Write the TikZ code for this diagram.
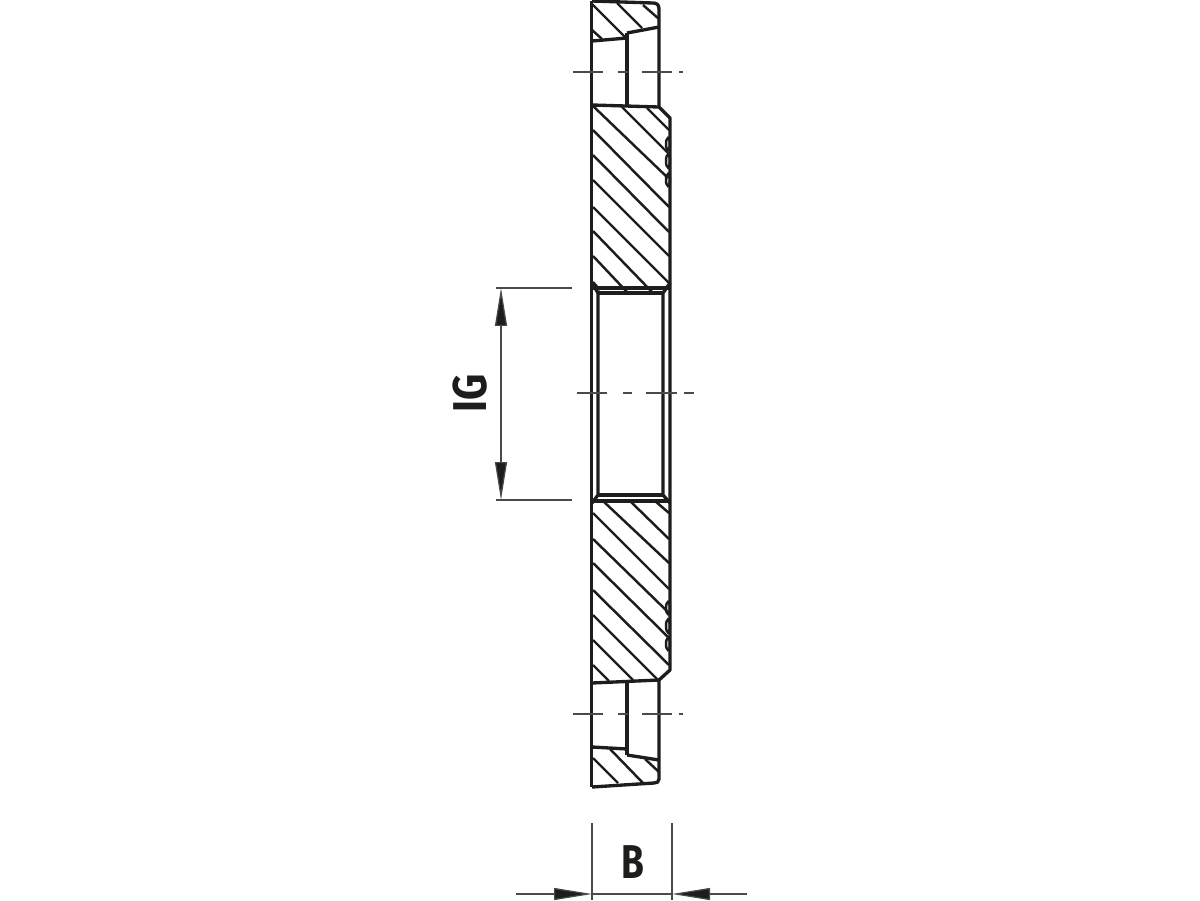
\documentclass[tikz,border=0pt]{standalone}
\usepackage{fontspec}
\setsansfont{Fira Sans}
\usetikzlibrary{arrows.meta}

\definecolor{ink}{HTML}{1D1D1B}
\tikzset{
  outline/.style={line width=1.9pt, draw=ink, line join=round},
  hatch/.style={line width=1.4pt, draw=ink},
  centre/.style={line width=0.7pt, draw=ink!80},
  dimline/.style={line width=0.7pt, draw=ink!80},
  dimtip/.style={-{Triangle[length=0.76cm, width=0.24cm, fill=ink]}},
  dimlabel/.style={font=\sffamily\bfseries\fontsize{27}{27}\selectfont, text=ink, inner sep=0pt}
}

\begin{document}
\begin{tikzpicture}[x=0.02cm, y=-0.02cm]
\useasboundingbox (0,0) rectangle (1200,900);

% top hole
\draw[outline] (592,1) -- (653,3) .. controls (657,3) and (659,5) .. (659,9) -- (659,107) -- (670,118) -- (670,283);
\draw[outline] (592,41) -- (627,38);
\draw[outline] (627,33) -- (659,27);
\draw[outline] (627,33) -- (627,106);
\draw[outline] (592,105) -- (659,107);

% left edge and bore
\draw[outline] (591.5,1) -- (591.5,787);
\draw[outline] (670,283) -- (670,670) -- (659,680);
\draw[outline] (592,288) -- (670,288);
\draw[outline] (598,293) -- (663,293);
\draw[outline] (592,283) -- (598,293) -- (598,495) -- (592,503);
\draw[outline] (670,283) -- (663,293) -- (663,495) -- (670,503);
\draw[outline] (598,495) -- (663,495);
\draw[outline] (592,501) -- (670,501);

% bottom hole
\draw[outline] (592,683) -- (659,680);
\draw[outline] (627,683) -- (627,755);
\draw[outline] (592,747) -- (627,749);
\draw[outline] (627,755) -- (659,760);
\draw[outline] (659,680) -- (659,779) .. controls (659,782) and (657,783) .. (654,783) -- (592,787);

% hatching, top
\draw[hatch] (592,4) -- (625,37);
\draw[hatch] (617,3) -- (642,28);
\draw[hatch] (643,5) -- (659,19);
\draw[hatch] (592,30) -- (602,39);
\draw[hatch] (593,106) -- (668,178);
\draw[hatch] (622,107) -- (668,153);
\draw[hatch] (647,108) -- (669,130);
\draw[hatch] (593,130) -- (669,207);
\draw[hatch] (593,155) -- (669,232);
\draw[hatch] (593,180) -- (669,256);
\draw[hatch] (593,207) -- (669,283);
\draw[hatch] (593,231) -- (652,292);
\draw[hatch] (593,256) -- (627,292);
\draw[hatch] (593,282) -- (600,290);

% hatching, bottom
\draw[hatch] (603,501) -- (669,563);
\draw[hatch] (630,501) -- (669,539);
\draw[hatch] (655,501) -- (669,513);
\draw[hatch] (593,513) -- (669,589);
\draw[hatch] (593,539) -- (669,613);
\draw[hatch] (593,563) -- (669,638);
\draw[hatch] (593,590) -- (669,665);
\draw[hatch] (593,615) -- (657,679);
\draw[hatch] (593,640) -- (633,680);
\draw[hatch] (593,665) -- (609,681);
\draw[hatch] (593,758) -- (618,783);
\draw[hatch] (610,749) -- (643,783);
\draw[hatch] (645,759) -- (659,772);

% thread marks
\draw[hatch] (668,144) ellipse (2 and 6);
\draw[hatch] (668,161) ellipse (2 and 6.5);
\draw[hatch] (668,180) ellipse (2 and 6);
\draw[hatch] (668,608) ellipse (2 and 6);
\draw[hatch] (668,626) ellipse (2 and 6.5);
\draw[hatch] (668,644) ellipse (2 and 6);

% centre lines
\draw[centre] (573,72) -- (603,72);
\draw[centre] (618,72) -- (628,72);
\draw[centre] (642,72) -- (672,72);
\draw[centre] (679,72) -- (683,72);
\draw[centre] (577,393) -- (607,393);
\draw[centre] (623,393) -- (632,393);
\draw[centre] (646,393) -- (677,393);
\draw[centre] (684,393) -- (694,393);
\draw[centre] (573,714) -- (603,714);
\draw[centre] (618,714) -- (628,714);
\draw[centre] (642,714) -- (672,714);
\draw[centre] (679,714) -- (683,714);

% dimension IG
\coordinate (igtop) at (501,288);
\coordinate (igbot) at (501,500);
\coordinate (igtopend) at (572,288);
\coordinate (igbotend) at (572,500);
\coordinate (igtopstart) at (496,288);
\coordinate (igbotstart) at (496,500);
\coordinate (igmid) at (501,394);
\draw[dimline] (igtopstart) -- (igtopend);
\draw[dimline] (igbotstart) -- (igbotend);
\draw[dimline, dimtip] (igmid) -- (igtop);
\draw[dimline, dimtip] (igmid) -- (igbot);
\node[dimlabel, rotate=90, xscale=0.86] (ig) at (470,393) {IG};

% dimension B
\coordinate (bleft) at (592,894);
\coordinate (bright) at (672,894);
\coordinate (bleftstart) at (516,894);
\coordinate (brightstart) at (747,894);
\coordinate (bleftup) at (592,823);
\coordinate (brightup) at (672,823);
\coordinate (bleftdown) at (592,900);
\coordinate (brightdown) at (672,900);
\draw[dimline] (bleftup) -- (bleftdown);
\draw[dimline] (brightup) -- (brightdown);
\draw[dimline] (bleft) -- (bright);
\draw[dimline, dimtip] (bleftstart) -- (bleft);
\draw[dimline, dimtip] (brightstart) -- (bright);
\node[dimlabel, xscale=0.78] (b) at (632.5,862.5) {B};
\end{tikzpicture}
\end{document}
